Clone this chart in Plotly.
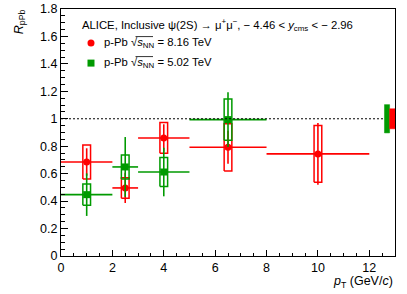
import plotly.graph_objects as go

# ---------------- data ----------------
# p-Pb sqrt(sNN) = 8.16 TeV
pt_816 = [1.0, 2.5, 4.0, 6.5, 10.0]
pt_lo_816 = [0, 2, 3, 5, 8]
pt_hi_816 = [2, 3, 5, 8, 12]
r_816 = [0.685, 0.496, 0.860, 0.792, 0.744]
stat_816 = [0.10, 0.11, 0.10, 0.12, 0.225]
syst_816 = [0.123, 0.075, 0.112, 0.172, 0.207]
glob_816 = 0.073

# p-Pb sqrt(sNN) = 5.02 TeV
pt_502 = [1.0, 2.5, 4.0, 6.5]
pt_lo_502 = [0, 2, 3, 5]
pt_hi_502 = [2, 3, 5, 8]
r_502 = [0.447, 0.649, 0.612, 0.994]
stat_502 = [0.155, 0.218, 0.177, 0.20]
syst_502 = [0.078, 0.087, 0.105, 0.150]
glob_502 = 0.103

x_ticks = [0, 2, 4, 6, 8, 10, 12]
y_ticks = [0, 0.2, 0.4, 0.6, 0.8, 1.0, 1.2, 1.4, 1.6, 1.8]
y_tick_text = ["0", "0.2", "0.4", "0.6", "0.8", "1", "1.2", "1.4", "1.6", "1.8"]

RED = "#ff0000"
GREEN = "#009a00"
FONT = "Liberation Sans"
BOX_HW = 0.15

fig = go.Figure()


def box_trace(pt, r, syst, color):
    xs, ys = [], []
    for x, y, s in zip(pt, r, syst):
        xs += [x - BOX_HW, x + BOX_HW, x + BOX_HW, x - BOX_HW, x - BOX_HW, None]
        ys += [y - s, y - s, y + s, y + s, y - s, None]
    return go.Scatter(x=xs, y=ys, mode="lines", line=dict(color=color, width=1.5),
                      showlegend=False, hoverinfo="skip")


def point_trace(pt, lo, hi, r, stat, color, symbol):
    return go.Scatter(
        x=pt, y=r, mode="markers",
        marker=dict(color=color, size=7, symbol=symbol, line=dict(width=0)),
        error_x=dict(type="data", symmetric=False,
                     array=[h - x for h, x in zip(hi, pt)],
                     arrayminus=[x - l for l, x in zip(lo, pt)],
                     color=color, thickness=1.6, width=0),
        error_y=dict(type="data", array=stat, color=color, thickness=1.6, width=0),
        showlegend=False, hoverinfo="skip")


def glob_trace(x0, x1, g, color):
    return go.Scatter(x=[x0, x1, x1, x0, x0], y=[1 - g, 1 - g, 1 + g, 1 + g, 1 - g],
                      mode="lines", fill="toself", fillcolor=color,
                      line=dict(color=color, width=0.5), showlegend=False, hoverinfo="skip")


fig.add_trace(box_trace(pt_816, r_816, syst_816, RED))
fig.add_trace(box_trace(pt_502, r_502, syst_502, GREEN))
fig.add_trace(point_trace(pt_816, pt_lo_816, pt_hi_816, r_816, stat_816, RED, "circle"))
fig.add_trace(point_trace(pt_502, pt_lo_502, pt_hi_502, r_502, stat_502, GREEN, "square"))
fig.add_trace(glob_trace(12.59, 12.79, glob_502, GREEN))
fig.add_trace(glob_trace(12.79, 13.0, glob_816, RED))

# unity line
fig.add_shape(type="line", xref="x", yref="y", x0=0, x1=12.58, y0=1, y1=1,
              line=dict(color="black", width=1, dash="2px,2px"))

# legend symbols
LEG_X = 0.0898
LEG_TXT_X = 0.1228
LEG_Y = [0.862, 0.781]
fig.add_shape(type="circle", xref="paper", yref="paper", xsizemode="pixel", ysizemode="pixel",
              xanchor=LEG_X, yanchor=LEG_Y[0], x0=-3.5, x1=3.5, y0=-3.5, y1=3.5,
              fillcolor=RED, line=dict(width=0))
fig.add_shape(type="rect", xref="paper", yref="paper", xsizemode="pixel", ysizemode="pixel",
              xanchor=LEG_X, yanchor=LEG_Y[1], x0=-3.5, x1=3.5, y0=-3.5, y1=3.5,
              fillcolor=GREEN, line=dict(width=0))
# overline of the square-root sign
for ly in LEG_Y:
    fig.add_shape(type="line", xref="paper", yref="paper", xsizemode="pixel", ysizemode="pixel",
                  xanchor=LEG_TXT_X, yanchor=ly, x0=33.5, x1=51, y0=6.5, y1=6.5,
                  line=dict(color="black", width=0.8))

txt_font = dict(family=FONT, size=11.3, color="black")
fig.add_annotation(xref="paper", yref="paper", x=0.0569, y=0.935, xanchor="left", yanchor="middle",
                   showarrow=False, font=txt_font,
                   text="ALICE, Inclusive ψ(2S) → μ<sup>+</sup>μ<sup>−</sup>, − 4.46 &lt; <i>y</i><sub>cms</sub> &lt; − 2.96")
fig.add_annotation(xref="paper", yref="paper", x=LEG_TXT_X, y=LEG_Y[0], xanchor="left", yanchor="middle",
                   showarrow=False, font=txt_font,
                   text="p-Pb √<i>s</i><sub>NN</sub> = 8.16 TeV")
fig.add_annotation(xref="paper", yref="paper", x=LEG_TXT_X, y=LEG_Y[1], xanchor="left", yanchor="middle",
                   showarrow=False, font=txt_font,
                   text="p-Pb √<i>s</i><sub>NN</sub> = 5.02 TeV")

# axis titles
fig.add_annotation(xref="paper", yref="paper", x=1.0, y=-0.105, xanchor="right", yanchor="middle",
                   showarrow=False, font=dict(family=FONT, size=12.5, color="black"),
                   text="<i>p</i><sub>T</sub> (GeV/<i>c</i>)")
fig.add_annotation(xref="paper", yref="paper", x=-0.123, y=0.95, xanchor="center", yanchor="middle",
                   textangle=-90, showarrow=False, font=dict(family=FONT, size=12.5, color="black"),
                   text="<i>R</i><sub>pPb</sub>")

axis_common = dict(showgrid=False, zeroline=False, showline=True, linecolor="black", linewidth=1,
                   mirror=True, ticks="inside", tickcolor="black", tickwidth=1, automargin=False,
                   tickfont=dict(family=FONT, size=12.5, color="black"))
fig.update_xaxes(range=[0, 13], tickvals=x_ticks, ticklen=6,
                 minor=dict(dtick=0.5, ticklen=3, ticks="inside", tickcolor="black"),
                 **axis_common)
fig.update_yaxes(range=[0, 1.8], tickvals=y_ticks, ticktext=y_tick_text, ticklen=7,
                 minor=dict(dtick=0.05, ticklen=4, ticks="inside", tickcolor="black"),
                 **axis_common)

fig.update_layout(width=407, height=294, margin=dict(l=61, r=12, t=9, b=38),
                  paper_bgcolor="white", plot_bgcolor="white", showlegend=False,
                  font=dict(family=FONT))

fig.write_html("out.html", config={"displayModeBar": False},
               post_script="document.body.style.margin='0';")
